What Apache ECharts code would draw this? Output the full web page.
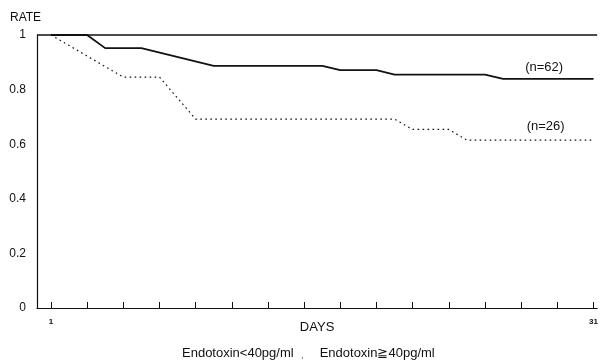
<!DOCTYPE html>
<html>
<head>
<meta charset="utf-8">
<script src="https://cdn.jsdelivr.net/npm/echarts@6/dist/echarts.min.js"></script>
<style>
  html, body { margin: 0; padding: 0; background: #fff; }
  #chart { width: 601px; height: 363px; }
</style>
</head>
<body>
<div id="chart"></div>
<script>
// Survival rate by day for two endotoxin groups
const lowGroupName = 'Endotoxin<40pg/ml';
const highGroupName = 'Endotoxin\u226740pg/ml';

// [day, rate] points of the lower-endotoxin group (n=62)
const lowDays  = [1, 3, 4, 6, 10, 16, 17, 19, 20, 25, 26, 31];
const lowRates = [1, 1, 0.952, 0.952, 0.887, 0.887, 0.871, 0.871, 0.855, 0.855, 0.839, 0.839];

// [day, rate] points of the higher-endotoxin group (n=26)
const highDays  = [1, 5, 7, 9, 20, 21, 23, 24, 31];
const highRates = [1, 0.846, 0.846, 0.692, 0.692, 0.654, 0.654, 0.615, 0.615];

const tickDays = [1, 3, 5, 7, 9, 11, 13, 15, 17, 19, 21, 23, 25, 27, 29, 31];
const labelDays = [1, 31];
const groupSizes = ['(n=62)', '(n=26)'];

const font = '"Liberation Sans", Arial, sans-serif';
const ink = '#111';

const pair = (xs, ys) => xs.map((x, i) => [x, ys[i]]);

const chart = echarts.init(document.getElementById('chart'), null, { renderer: 'canvas' });

chart.setOption({
  backgroundColor: '#fff',
  animation: false,
  grid: { left: 37, right: 3, top: 35, bottom: 55, containLabel: false },
  legend: {
    left: 177,
    top: 347,
    padding: 0,
    itemWidth: 0,
    itemHeight: 0,
    itemGap: 21,
    icon: 'none',
    data: [lowGroupName, highGroupName],
    textStyle: { fontFamily: font, fontSize: 13, color: ink, padding: 0 }
  },
  xAxis: {
    type: 'value',
    min: 0.23,
    max: 31.2,
    name: 'DAYS',
    nameLocation: 'middle',
    nameGap: 13,
    nameMoveOverlap: false,
    nameTextStyle: { fontFamily: font, fontSize: 13, color: ink, verticalAlign: 'top' },
    splitLine: { show: false },
    axisLine: { show: true, lineStyle: { color: ink, width: 1.2 } },
    axisTick: {
      show: true,
      inside: true,
      length: 6,
      customValues: tickDays,
      lineStyle: { color: ink, width: 1 }
    },
    axisLabel: {
      customValues: labelDays,
      margin: 10,
      fontFamily: font,
      fontSize: 8,
      fontWeight: 'bold',
      color: ink
    }
  },
  yAxis: {
    type: 'value',
    min: 0,
    max: 1,
    interval: 0.2,
    splitLine: { show: false },
    axisLine: { show: true, lineStyle: { color: ink, width: 1.2 } },
    axisTick: { show: false },
    axisLabel: {
      margin: 11,
      fontFamily: font,
      fontSize: 12,
      color: ink,
      formatter: v => String(+v.toFixed(1))
    }
  },
  series: [
    {
      name: lowGroupName,
      type: 'line',
      data: pair(lowDays, lowRates),
      showSymbol: false,
      symbol: 'none',
      color: ink,
      lineStyle: { color: ink, width: 1.8 },
      markLine: {
        silent: true,
        symbol: 'none',
        label: { show: false },
        lineStyle: { color: ink, width: 1.5, type: 'solid' },
        data: [{ yAxis: 1 }]
      },
      markPoint: {
        symbol: 'circle',
        symbolSize: 0,
        label: { show: true, formatter: groupSizes[0], fontFamily: font, fontSize: 13, color: ink },
        data: [{ coord: [28.27, 0.883] }]
      }
    },
    {
      name: highGroupName,
      type: 'line',
      data: pair(highDays, highRates),
      showSymbol: false,
      symbol: 'none',
      color: ink,
      lineStyle: { color: ink, width: 1.2, type: [1.6, 3.4] },
      markPoint: {
        symbol: 'circle',
        symbolSize: 0,
        label: { show: true, formatter: groupSizes[1], fontFamily: font, fontSize: 13, color: ink },
        data: [{ coord: [28.35, 0.665] }]
      }
    }
  ],
  graphic: [
    {
      type: 'text',
      left: 10,
      top: 12,
      style: { text: 'RATE', font: '12px ' + font, fill: ink }
    },
    {
      type: 'text',
      left: 301,
      top: 351,
      style: { text: ',', font: '9px ' + font, fill: '#555' }
    }
  ]
});
</script>
</body>
</html>
